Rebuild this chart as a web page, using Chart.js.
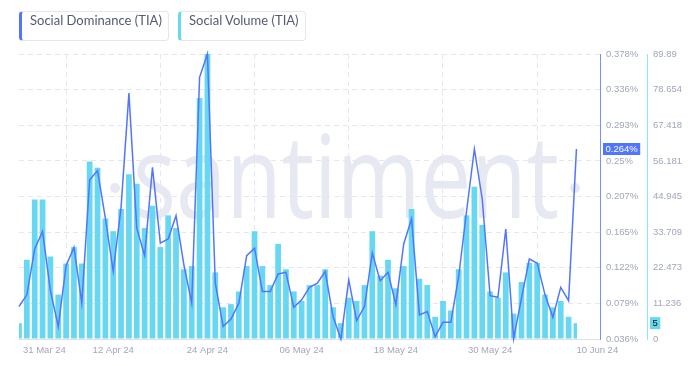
<!DOCTYPE html>
<html>
<head>
<meta charset="utf-8">
<script src="https://cdn.jsdelivr.net/npm/chart.js@4.4.1/dist/chart.umd.min.js"></script>
<style>
    body { margin: 0; background: #fff; }
    #wrap { position: relative; width: 696px; height: 366px; }
    #chart { position: absolute; left: 0; top: 0; }
    .legend-item {
        position: absolute;
        top: 11px;
        height: 28px;
        line-height: 28px;
        box-sizing: content-box;
        border: 1px solid #e5e7f0;
        border-radius: 4px;
        padding-left: 8px;
        font: 13px Lato, "Liberation Sans", sans-serif;
        color: #545a76;
        background: #fff;
    }
</style>
</head>
<body>
<div id="wrap">
    <canvas id="chart" width="696" height="366"></canvas>
    <div class="legend-item" style="left:19px; width:138px; border-left:3px solid #5275ff;">Social Dominance (TIA)</div>
    <div class="legend-item" style="left:178px; width:116px; border-left:3px solid #68d8f2;">Social Volume (TIA)</div>
</div>
<script>
// Daily values, 31 Mar 24 .. 10 Jun 24 (index = days since 31 Mar)
const socialVolume = [
    5, 25, 44, 44, 26, 14, 23.8, 29, 23.8, 56, 54, 38,
    34, 41, 52, 49, 35, 42, 29, 39, 35, 22, 23, 76,
    89.89, 21, 10, 11, 15, 23, 34, 23, 17, 30, 22, 15,
    12, 17, 17, 22, 10, 5, 13, 12, 17, 34, 20, 25,
    16, 23, 41, 19, 17, 7, 12, 9, 22, 39, 48, 36,
    15, 13, 21, 8, 18, 24, 24, 14, 10, 12, 7, 5
];
const socialDominance = [
    0.075, 0.089, 0.144, 0.165, 0.094, 0.051, 0.124, 0.146, 0.079, 0.227, 0.238, 0.181,
    0.117, 0.194, 0.331, 0.169, 0.136, 0.242, 0.151, 0.156, 0.184, 0.125, 0.079, 0.35,
    0.378, 0.103, 0.051, 0.06, 0.079, 0.136, 0.145, 0.093, 0.093, 0.114, 0.116, 0.074,
    0.083, 0.098, 0.103, 0.117, 0.063, 0.036, 0.107, 0.058, 0.075, 0.139, 0.106, 0.116,
    0.077, 0.15, 0.18, 0.065, 0.069, 0.039, 0.056, 0.056, 0.111, 0.189, 0.264, 0.204,
    0.088, 0.086, 0.168, 0.0365, 0.085, 0.132, 0.127, 0.089, 0.062, 0.098, 0.082, 0.264
];
const xTickIndex = [0, 12, 24, 36, 48, 60, 71];
const xTickLabels = ['31 Mar 24', '12 Apr 24', '24 Apr 24', '06 May 24', '18 May 24', '30 May 24', '10 Jun 24'];
const dominanceTicks = ['0.036%', '0.079%', '0.122%', '0.165%', '0.207%', '0.25%', '0.293%', '0.336%', '0.378%'];
const volumeTicks = ['0', '11.236', '22.473', '33.709', '44.945', '56.181', '67.418', '78.654', '89.89'];
const DOM_MIN = 0.036, DOM_MAX = 0.378;
const VOL_MIN = 0, VOL_MAX = 89.89;

const BLUE = '#5275ff';
const CYAN = '#68d8f2';
const GRID = '#e4e7f0';
const TICK_COLOR = '#a0a7bd';
const TICK_FONT = { family: '"Liberation Sans", Arial, sans-serif', size: 9.5 };

function evenTicks(min, max, count) {
    const out = [];
    for (let i = 0; i < count; i++) out.push({ value: min + (max - min) * i / (count - 1) });
    return out;
}

// faint brand watermark behind everything
const watermark = {
    id: 'watermark',
    beforeDraw(chart) {
        const ctx = chart.ctx;
        ctx.save();
        ctx.fillStyle = '#e6e8f2';
        ctx.font = '400 115px "Open Sans"';
        const w = ctx.measureText('santiment').width;
        ctx.translate(133, 218);
        ctx.scale(426 / w, 1);
        ctx.textBaseline = 'alphabetic';
        ctx.fillText('santiment', 0, 0);
        ctx.restore();
        ctx.save();
        ctx.fillStyle = '#e6e8f2';
        [115, 575].forEach(cx => {
            ctx.beginPath();
            ctx.arc(cx, 188, 5, 0, Math.PI * 2);
            ctx.fill();
        });
        ctx.restore();
    }
};

// date labels under the axis + last value badges on the right axes
const extras = {
    id: 'extras',
    afterDraw(chart) {
        const ctx = chart.ctx;
        const xs = chart.scales.x, yd = chart.scales.yDom, yv = chart.scales.yVol;
        const area = chart.chartArea;
        ctx.save();
        ctx.font = '9.5px "Liberation Sans", Arial, sans-serif';
        ctx.fillStyle = TICK_COLOR;
        ctx.textBaseline = 'middle';
        xTickIndex.forEach((idx, i) => {
            const px = xs.getPixelForValue(idx);
            if (i === 0) { ctx.textAlign = 'left'; ctx.fillText(xTickLabels[i], px + 4, area.bottom + 11); }
            else if (i === xTickIndex.length - 1) { ctx.textAlign = 'left'; ctx.fillText(xTickLabels[i], px, area.bottom + 11); }
            else { ctx.textAlign = 'center'; ctx.fillText(xTickLabels[i], px, area.bottom + 11); }
        });

        const lastDom = socialDominance[socialDominance.length - 1];
        const lastVol = socialVolume[socialVolume.length - 1];
        const dy = yd.getPixelForValue(lastDom);
        const domText = lastDom.toFixed(3) + '%';
        const dw = ctx.measureText(domText).width + 5;
        ctx.fillStyle = BLUE;
        ctx.fillRect(yd.left + 3, dy - 6, dw, 12);
        ctx.fillStyle = '#fff';
        ctx.textAlign = 'left';
        ctx.fillText(domText, yd.left + 5.5, dy + 0.5);

        const vy = yv.getPixelForValue(lastVol);
        const volText = String(lastVol);
        const vw = ctx.measureText(volText).width + 5;
        ctx.fillStyle = CYAN;
        ctx.fillRect(yv.left + 3, vy - 6, vw, 12);
        ctx.fillStyle = '#111';
        ctx.fillText(volText, yv.left + 5.5, vy + 0.5);
        ctx.restore();
    }
};

const ctx = document.getElementById('chart').getContext('2d');
const chart = new Chart(ctx, {
    data: {
        datasets: [
            {
                type: 'line',
                label: 'Social Dominance (TIA)',
                data: socialDominance.map((v, i) => ({ x: i, y: v })),
                yAxisID: 'yDom',
                borderColor: BLUE,
                borderWidth: 1.5,
                pointRadius: 0,
                tension: 0,
                clip: false,
                order: 0
            },
            {
                type: 'bar',
                label: 'Social Volume (TIA)',
                data: socialVolume.map((v, i) => ({ x: i, y: v })),
                yAxisID: 'yVol',
                backgroundColor: CYAN,
                borderWidth: 0,
                barPercentage: 0.73,
                categoryPercentage: 1,
                clip: { left: 0, top: 0, right: -23, bottom: 0 },
                order: 1
            }
        ]
    },
    options: {
        responsive: false,
        animation: false,
        devicePixelRatio: 1,
        layout: { padding: { top: 54, left: 19, right: 0, bottom: 27 } },
        plugins: {
            legend: { display: false },
            tooltip: { enabled: false }
        },
        scales: {
            x: {
                type: 'linear',
                min: 0,
                max: 74,
                offset: false,
                afterBuildTicks: s => { s.ticks = xTickIndex.slice(0, -1).map(v => ({ value: v })); },
                afterFit: s => { s.height = 0; },
                ticks: { display: false },
                grid: { color: GRID, drawTicks: false },
                border: { display: true, color: '#dde1ec', dash: [5, 4] }
            },
            yDom: {
                type: 'linear',
                position: 'right',
                min: DOM_MIN,
                max: DOM_MAX,
                afterBuildTicks: s => { s.ticks = evenTicks(DOM_MIN, DOM_MAX, dominanceTicks.length); },
                afterFit: s => { s.width = 47; },
                ticks: {
                    autoSkip: false,
                    padding: 6,
                    color: TICK_COLOR,
                    font: TICK_FONT,
                    callback: (v, i) => dominanceTicks[i]
                },
                grid: { color: GRID, drawTicks: false },
                border: { display: true, color: '#7590ff', dash: [5, 4] }
            },
            yVol: {
                type: 'linear',
                position: 'right',
                min: VOL_MIN,
                max: VOL_MAX,
                afterBuildTicks: s => { s.ticks = evenTicks(VOL_MIN, VOL_MAX, volumeTicks.length); },
                afterFit: s => { s.width = 49; },
                ticks: {
                    autoSkip: false,
                    padding: 6,
                    color: TICK_COLOR,
                    font: TICK_FONT,
                    callback: (v, i) => volumeTicks[i]
                },
                grid: { drawOnChartArea: false, drawTicks: false },
                border: { display: true, color: '#93e3f6' }
            }
        }
    },
    plugins: [watermark, extras]
});
</script>
</body>
</html>
